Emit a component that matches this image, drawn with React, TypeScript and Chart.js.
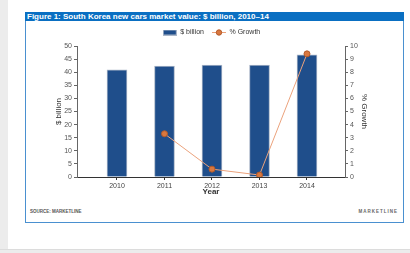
import React, { useEffect, useRef } from "react";
import { Chart, registerables } from "chart.js";

Chart.register(...registerables);

const years = [2010, 2011, 2012, 2013, 2014];
const marketValue = [40.9, 42.3, 42.7, 42.7, 46.6];
const growthYears = [2011, 2012, 2013, 2014];
const growth = [3.3, 0.6, 0.15, 9.4];
const leftTicks = [0, 5, 10, 15, 20, 25, 30, 35, 40, 45, 50];
const rightTicks = [0, 1, 2, 3, 4, 5, 6, 7, 8, 9, 10];

const BAR_COLOR = "#1f4e8b";
const BAR_BORDER = "#aab6c8";
const LINE_COLOR = "#eba27c";
const POINT_COLOR = "#d9783f";
const POINT_BORDER = "#b35a2a";
const FONT = "Arial, 'Liberation Sans', sans-serif";

function barIcon() {
  const c = document.createElement("canvas");
  c.width = 14;
  c.height = 6;
  const g = c.getContext("2d")!;
  g.fillStyle = BAR_COLOR;
  g.fillRect(0, 0, 14, 6);
  g.strokeStyle = BAR_BORDER;
  g.lineWidth = 1;
  g.strokeRect(0.5, 0.5, 13, 5);
  return c;
}

function lineIcon() {
  const c = document.createElement("canvas");
  c.width = 14;
  c.height = 7;
  const g = c.getContext("2d")!;
  g.strokeStyle = LINE_COLOR;
  g.lineWidth = 1;
  g.beginPath();
  g.moveTo(0, 3.5);
  g.lineTo(14, 3.5);
  g.stroke();
  g.fillStyle = POINT_COLOR;
  g.strokeStyle = POINT_BORDER;
  g.beginPath();
  g.arc(7, 3.5, 2.7, 0, Math.PI * 2);
  g.fill();
  g.stroke();
  return c;
}

export default function App() {
  const ref = useRef<HTMLCanvasElement | null>(null);

  useEffect(() => {
    if (!ref.current) return;
    const icons = [barIcon(), lineIcon()];
    const chart = new Chart(ref.current, {
      type: "bar",
      data: {
        datasets: [
          {
            type: "line",
            label: "% Growth",
            data: growthYears.map((y, i) => ({ x: y, y: growth[i] })),
            yAxisID: "y1",
            borderColor: LINE_COLOR,
            borderWidth: 1,
            pointRadius: 3,
            pointBackgroundColor: POINT_COLOR,
            pointBorderColor: POINT_BORDER,
            pointBorderWidth: 1,
            order: 0,
          } as any,
          {
            type: "bar",
            label: "$ billion",
            data: years.map((y, i) => ({ x: y, y: marketValue[i] })),
            yAxisID: "y",
            backgroundColor: BAR_COLOR,
            borderColor: BAR_BORDER,
            borderWidth: 1,
            barThickness: 20,
            order: 1,
          } as any,
        ],
      },
      options: {
        responsive: false,
        animation: false,
        devicePixelRatio: 1,
        layout: { padding: { left: 52, right: 39, top: 21, bottom: 52 } },
        plugins: {
          tooltip: { enabled: false },
          legend: {
            display: true,
            position: "top",
            labels: {
              usePointStyle: true,
              pointStyleWidth: 14,
              padding: 8,
              color: "#333",
              font: { size: 7, family: FONT },
              generateLabels: () => [
                {
                  text: "$ billion",
                  pointStyle: icons[0] as any,
                  fillStyle: BAR_COLOR,
                  strokeStyle: BAR_BORDER,
                  lineWidth: 0,
                  hidden: false,
                  datasetIndex: 1,
                  fontColor: "#333",
                },
                {
                  text: "% Growth",
                  pointStyle: icons[1] as any,
                  fillStyle: POINT_COLOR,
                  strokeStyle: POINT_BORDER,
                  lineWidth: 0,
                  hidden: false,
                  datasetIndex: 0,
                  fontColor: "#333",
                },
              ],
            },
          },
        },
        scales: {
          x: {
            type: "linear",
            position: "bottom",
            offset: false,
            min: 2009.158,
            max: 2014.8,
            afterBuildTicks: (s: any) => {
              s.ticks = years.map((v) => ({ value: v }));
            },
            afterFit: (s: any) => {
              s.height = 24;
            },
            grid: { drawOnChartArea: false, drawTicks: true, tickLength: 3, color: "#333", offset: false },
            border: { color: "#333", width: 1 },
            ticks: {
              autoSkip: false,
              maxRotation: 0,
              padding: 2,
              color: "#444",
              font: { size: 7, family: FONT },
              callback: (v: any) => String(v),
            },
            title: {
              display: true,
              text: "Year",
              color: "#333",
              font: { size: 8, weight: "bold", family: FONT },
              padding: { top: 0, bottom: 4 },
            },
          },
          y: {
            type: "linear",
            position: "left",
            min: 0,
            max: 50,
            afterBuildTicks: (s: any) => {
              s.ticks = leftTicks.map((v) => ({ value: v }));
            },
            afterFit: (s: any) => {
              s.width = 25;
            },
            grid: { drawOnChartArea: false, drawTicks: true, tickLength: 3, color: "#666" },
            border: { color: "#666", width: 1 },
            ticks: { padding: 2, color: "#555", font: { size: 7, family: FONT } },
            title: {
              display: true,
              text: "$ billion",
              color: "#333",
              font: { size: 8, family: FONT },
              padding: { top: 2, bottom: 2 },
            },
          },
          y1: {
            type: "linear",
            position: "right",
            min: 0,
            max: 10,
            afterBuildTicks: (s: any) => {
              s.ticks = rightTicks.map((v) => ({ value: v }));
            },
            afterFit: (s: any) => {
              s.width = 26;
            },
            grid: { drawOnChartArea: false, drawTicks: true, tickLength: 3, color: "#666" },
            border: { color: "#666", width: 1 },
            ticks: { padding: 2, color: "#555", font: { size: 7, family: FONT } },
            title: {
              display: true,
              text: "% Growth",
              color: "#333",
              font: { size: 8, family: FONT },
              padding: { top: 2, bottom: 2 },
            },
          },
        },
      } as any,
    });
    return () => chart.destroy();
  }, []);

  return (
    <div
      style={{
        position: "fixed",
        left: 0,
        top: 0,
        width: 410,
        height: 253,
        background: "#ffffff",
        overflow: "hidden",
        fontFamily: FONT,
      }}
    >
      <div style={{ position: "absolute", left: 0, top: 0, width: 8, height: 253, background: "#ececec" }} />
      <div
        style={{
          position: "absolute",
          left: 0,
          top: 249,
          width: 410,
          height: 4,
          background: "#ececec",
          borderTop: "1px solid #dcdcdc",
        }}
      />
      <div
        style={{
          position: "absolute",
          left: 25,
          top: 12,
          width: 377,
          height: 209,
          border: "1px solid #4a90d0",
        }}
      />
      <div
        style={{
          position: "absolute",
          left: 25,
          top: 12,
          width: 379,
          height: 9,
          background: "#0a6fc2",
          color: "#ffffff",
          fontSize: 8,
          fontWeight: "bold",
          lineHeight: "9px",
          paddingLeft: 2,
          boxSizing: "border-box",
          whiteSpace: "nowrap",
        }}
      >
        Figure 1: South Korea new cars market value: $ billion, 2010–14
      </div>
      <div
        style={{
          position: "absolute",
          left: 30,
          top: 209,
          fontSize: 4.5,
          fontWeight: "bold",
          color: "#555",
          whiteSpace: "nowrap",
        }}
      >
        SOURCE: MARKETLINE
      </div>
      <div
        style={{
          position: "absolute",
          right: 12,
          top: 209,
          fontSize: 4.5,
          fontWeight: "bold",
          color: "#666",
          letterSpacing: 1,
          whiteSpace: "nowrap",
        }}
      >
        MARKETLINE
      </div>
      <canvas
        ref={ref}
        width={410}
        height={253}
        style={{ position: "absolute", left: 0, top: 0, width: 410, height: 253 }}
      />
    </div>
  );
}
